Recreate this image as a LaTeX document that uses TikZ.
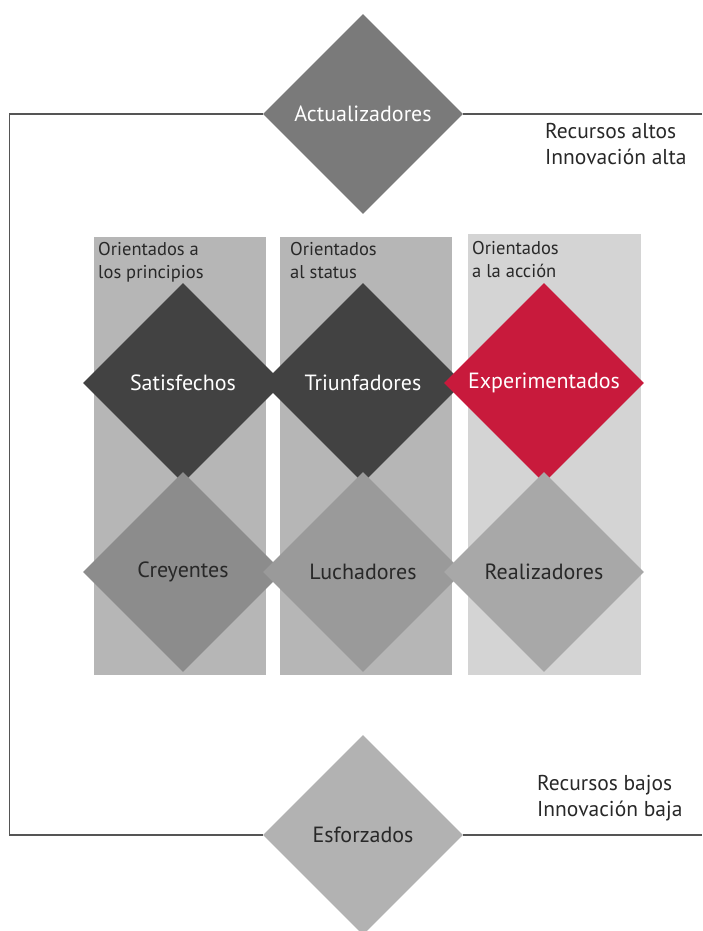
\documentclass[tikz,border=0pt]{standalone}
\usepackage{fontspec}
\setmainfont{PT Sans}
\usetikzlibrary{shapes.geometric,positioning}
\definecolor{framegray}{RGB}{85,85,85}
\definecolor{inkgray}{RGB}{40,40,40}
\definecolor{topgray}{RGB}{122,122,122}
\definecolor{basegray}{RGB}{178,178,178}
\definecolor{colgray}{RGB}{182,182,182}
\definecolor{collight}{RGB}{212,212,212}
\definecolor{darkgray}{RGB}{66,66,66}
\definecolor{crimson}{RGB}{200,26,60}
\definecolor{lowgrayA}{RGB}{140,140,140}
\definecolor{lowgrayB}{RGB}{154,154,154}
\definecolor{lowgrayC}{RGB}{168,168,168}

\begin{document}
\begin{tikzpicture}[x=1pt, y=-1pt, font=\fontsize{22}{26}\selectfont,
  segment/.style={diamond, aspect=1, minimum width=200pt, minimum height=200pt, inner sep=0pt},
  heading/.style={anchor=north west, align=left, inner sep=0pt, text=inkgray,
                  font=\fontsize{18.5}{23}\selectfont},
  note/.style={anchor=north west, align=left, inner sep=0pt, text=inkgray,
               font=\fontsize{21.5}{26}\selectfont}]

  \useasboundingbox (0,0) rectangle (702,931);

  % --- Parameters ---
  \pgfmathsetmacro{\rowA}{383}   % upper row of diamonds
  \pgfmathsetmacro{\rowB}{572}   % lower row of diamonds
  \pgfmathsetmacro{\colA}{183}
  \pgfmathsetmacro{\colB}{363}
  \pgfmathsetmacro{\colC}{544}

  % --- Columns (orientation) ---
  \fill[colgray]  (94,237) rectangle (266,675);
  \fill[colgray]  (280,237) rectangle (452,675);
  \fill[collight] (468,234) rectangle (641,675);

  \node[heading] (hprin) at (98,242)  {Orientados a\\los principios};
  \node[heading] (hstat) at (290,242) {Orientados\\al status};
  \node[heading] (hacc)  at (472,241) {Orientados\\a la acción};

  % --- Upper row ---
  \node[segment, fill=darkgray, text=white] (satis) at (\colA,\rowA) {Satisfechos};
  \node[segment, fill=darkgray, text=white] (triun) at (\colB,\rowA) {Triunfadores};
  \node[segment, fill=crimson, text=white] (exper) at (\colC,\rowA) {Experimentados};

  % --- Lower row ---
  \node[segment, fill=lowgrayA, text=inkgray] (creye) at (\colA,\rowB) {Creyentes};
  \node[segment, fill=lowgrayB, text=inkgray] (lucha) at (\colB,\rowB) {Luchadores};
  \node[segment, fill=lowgrayC, text=inkgray] (reali) at (\colC,\rowB) {Realizadores};

  % --- Top and bottom segments ---
  \node[segment, fill=topgray, text=white] (actua) at (\colB,114) {Actualizadores};
  \node[segment, fill=basegray, text=inkgray] (esfor) at (\colB,835) {Esforzados};

  % --- Frame ---
  \coordinate (ctop) at (9.5,114);
  \coordinate (cbot) at (9.5,835);
  \coordinate (etop) at (702,114);
  \coordinate (ebot) at (702,835);
  \draw[framegray, line width=1.3pt] (actua.west) -- (ctop) -- (cbot) -- (esfor.west);
  \draw[framegray, line width=1.3pt] (actua.east) -- (etop);
  \draw[framegray, line width=1.3pt] (esfor.east) -- (ebot);

  % --- Resource levels ---
  \node[note] (alto) at (545,123) {Recursos altos\\Innovación alta};
  \node[note] (bajo) at (537,775) {Recursos bajos\\Innovación baja};

\end{tikzpicture}
\end{document}
